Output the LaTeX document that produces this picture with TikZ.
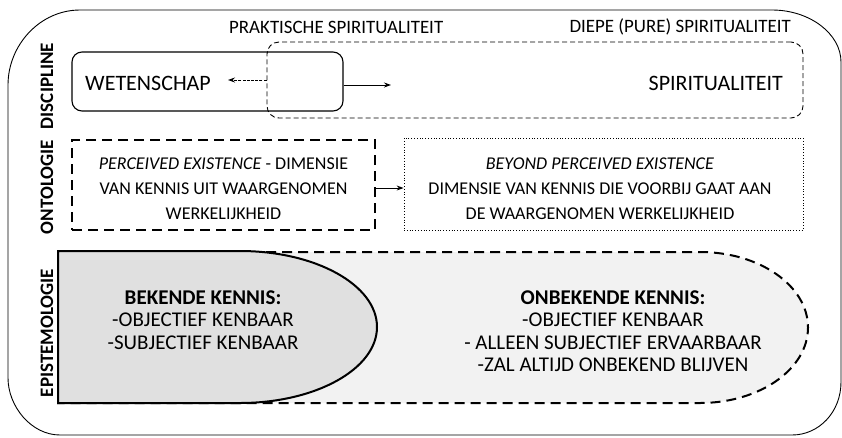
\documentclass[tikz,border=0pt]{standalone}
\usepackage{fontspec}
\setmainfont{Carlito}
\usetikzlibrary{arrows.meta}
\definecolor{knowngrey}{HTML}{E0E0E0}
\definecolor{unknowngrey}{HTML}{F2F2F2}
\tikzset{
  sidelabel/.style={rotate=90,font=\fontsize{19}{21}\selectfont\bfseries,inner sep=0pt},
  toplabel/.style={font=\fontsize{18.9}{21}\selectfont,inner sep=0pt},
  bigtxt/.style={font=\fontsize{22}{24}\selectfont,inner sep=0pt},
  ontotxt/.style={font=\fontsize{18}{25}\selectfont,align=center,inner sep=0pt},
  epitxt/.style={font=\fontsize{21}{22.5}\selectfont,align=center,inner sep=0pt},
  conn/.style={-{Stealth[length=7pt,width=5pt]},line width=0.9pt},
}
\begin{document}
\begin{tikzpicture}[x=1pt,y=-1pt]
\useasboundingbox (0,0) rectangle (842,437);
% outer frame
\draw[line width=0.9pt] (80,10) -- (772,10) .. controls (810,10) and (841,34) .. (841,62)
  -- (841,382) .. controls (841,412) and (819,435) .. (792,435)
  -- (60,435) .. controls (31,435) and (8,406) .. (8,378)
  -- (8,85) .. controls (8,45) and (40,10) .. (80,10);
% side labels
\node[sidelabel] (lbldisc) at (47,86) {DISCIPLINE};
\node[sidelabel] (lblonto) at (47,187) {ONTOLOGIE};
\node[sidelabel] (lblepi) at (47,333) {EPISTEMOLOGIE};
% discipline row
\node[toplabel,anchor=west] (prak) at (229,27) {PRAKTISCHE SPIRITUALITEIT};
\node[toplabel,anchor=east] (diep) at (791,27) {DIEPE (PURE) SPIRITUALITEIT};
\node[draw,dashed,dash pattern=on 5pt off 3pt,line width=0.9pt,rounded corners=12pt,
      minimum width=536pt,minimum height=76pt,inner sep=0pt] (spirbox) at (535,80) {};
\node[draw,line width=1.1pt,rounded corners=10pt,
      minimum width=271pt,minimum height=59pt,inner sep=0pt] (wetbox) at (207.5,81.5) {};
\node[bigtxt,anchor=west] (wet) at (85,83) {WETENSCHAP};
\node[bigtxt,anchor=east] (spir) at (783,83) {SPIRITUALITEIT};
\coordinate (a1end) at (228,80);
\coordinate (a2end) at (391,85);
\draw[conn,dash pattern=on 3pt off 1.2pt] (spirbox.west |- a1end) -- (a1end);
\draw[conn] (wetbox.east |- a2end) -- (a2end);
% ontology row
\node[draw,line width=2pt,dash pattern=on 10pt off 6pt,minimum width=303pt,minimum height=90pt,
      inner sep=0pt] (perc) at (223.5,185) {};
\node[draw,line width=0.8pt,dotted,minimum width=399pt,minimum height=92pt,
      inner sep=0pt] (beyond) at (603.5,184) {};
\node[ontotxt] (perctxt) at (223.5,189) {\textit{PERCEIVED EXISTENCE} - DIMENSIE\\VAN KENNIS UIT WAARGENOMEN\\WERKELIJKHEID};
\node[ontotxt] (beyondtxt) at (600,189) {\textit{BEYOND PERCEIVED EXISTENCE}\\DIMENSIE VAN KENNIS DIE VOORBIJ GAAT AAN\\DE WAARGENOMEN WERKELIJKHEID};
\draw[conn] (perc.east |- 0,188) -- (beyond.west |- 0,188);
% epistemology row
\draw[fill=unknowngrey,line width=2pt,dash pattern=on 10pt off 6pt]
  (58,252) -- (700,252) .. controls (759.6,252) and (808,285.8) .. (808,327.5)
  .. controls (808,369.2) and (759.6,403) .. (700,403) -- (58,403) -- cycle;
\draw[fill=knowngrey,line width=2pt]
  (58,251) -- (240,251) .. controls (315.6,251) and (377,285) .. (377,327)
  .. controls (377,369) and (315.6,403) .. (240,403) -- (58,403) -- cycle;
\node[epitxt] (known) at (203,320) {\textbf{BEKENDE KENNIS:}\\-OBJECTIEF KENBAAR\\-SUBJECTIEF KENBAAR};
\node[epitxt] (unknown) at (613,331) {\textbf{ONBEKENDE KENNIS:}\\-OBJECTIEF KENBAAR\\- ALLEEN SUBJECTIEF ERVAARBAAR\\-ZAL ALTIJD ONBEKEND BLIJVEN};
\end{tikzpicture}
\end{document}
